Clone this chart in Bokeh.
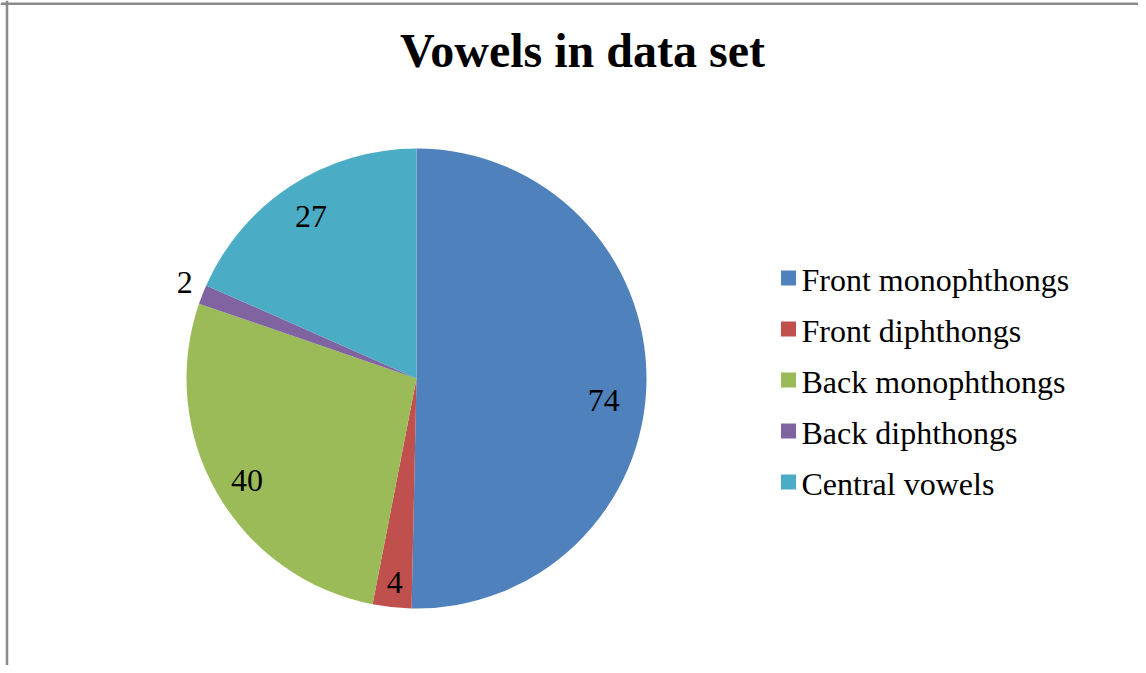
import math
from bokeh.plotting import figure
from bokeh.models import Range1d, Span, ColumnDataSource
from bokeh.core.properties import value
from bokeh.embed import file_html
from bokeh.resources import INLINE

# ---- data ----
title_text = "Vowels in data set"
categories = ["Front monophthongs", "Front diphthongs", "Back monophthongs",
              "Back diphthongs", "Central vowels"]
counts = [74, 4, 40, 2, 27]
colors = ["#4F81BD", "#C0504D", "#9BBB59", "#8064A2", "#4BACC6"]

# ---- style / layout ----
W, H = 1138, 665
CX, CY, R = 416, 287, 230          # pie centre / radius (screen px units)
label_rfac = [0.82, 0.89, 0.86, 1.09, 0.84]
label_shift_deg = [-6, 0, 1, -1, 0]
SERIF = "Liberation Serif"

p = figure(width=W, height=H, output_backend="svg", toolbar_location=None,
           x_range=Range1d(0, W), y_range=Range1d(0, H), min_border=0,
           outline_line_color=None)
p.axis.visible = False
p.grid.visible = False
p.background_fill_color = "white"
p.border_fill_color = "white"

total = sum(counts)
starts, ends, mids = [], [], []
cum = 0.0
for c in counts:
    a0 = math.pi / 2 - 2 * math.pi * cum / total
    a1 = math.pi / 2 - 2 * math.pi * (cum + c) / total
    starts.append(a0)
    ends.append(a1)
    mids.append((a0 + a1) / 2)
    cum += c

src = ColumnDataSource(dict(start=starts, end=ends, color=colors,
                            cat=categories, val=counts))
p.wedge(x=CX, y=CY, radius=R, start_angle="start", end_angle="end",
        direction="clock", fill_color="color", line_color=None, source=src)

# data labels
lx, ly, lt = [], [], []
for m, f, s, v in zip(mids, label_rfac, label_shift_deg, counts):
    a = m + math.radians(s)
    lx.append(CX + f * R * math.cos(a))
    ly.append(CY + f * R * math.sin(a))
    lt.append(str(v))
p.text(x=lx, y=ly, text=lt, text_font=value(SERIF), text_font_size="32px",
       text_align="center", text_baseline="middle", text_color="black")

# title
p.text(x=[582], y=[H - 50], text=[title_text], text_font=value(SERIF),
       text_font_size="48px", text_font_style="bold", text_align="center",
       text_baseline="middle", text_color="black")

# legend (manual)
LX, LY0, LDY = 788, H - 277.5, 51
sq_x = [LX] * len(categories)
sq_y = [LY0 - i * LDY for i in range(len(categories))]
p.rect(x=sq_x, y=sq_y, width=15, height=15, width_units="screen",
       height_units="screen", fill_color=colors, line_color=None)
p.text(x=[LX + 13] * len(categories), y=[y - 1.5 for y in sq_y], text=categories,
       text_font=value(SERIF), text_font_size="32px", text_align="left",
       text_baseline="middle", text_color="black")

# chart-area border (top and left visible)
p.add_layout(Span(location=6.5, dimension="height", line_color="#8a8a8a", line_width=2.5))
p.add_layout(Span(location=H - 3.3, dimension="width", line_color="#8a8a8a", line_width=2.5))

open("out.html", "w").write(file_html(p, INLINE))
